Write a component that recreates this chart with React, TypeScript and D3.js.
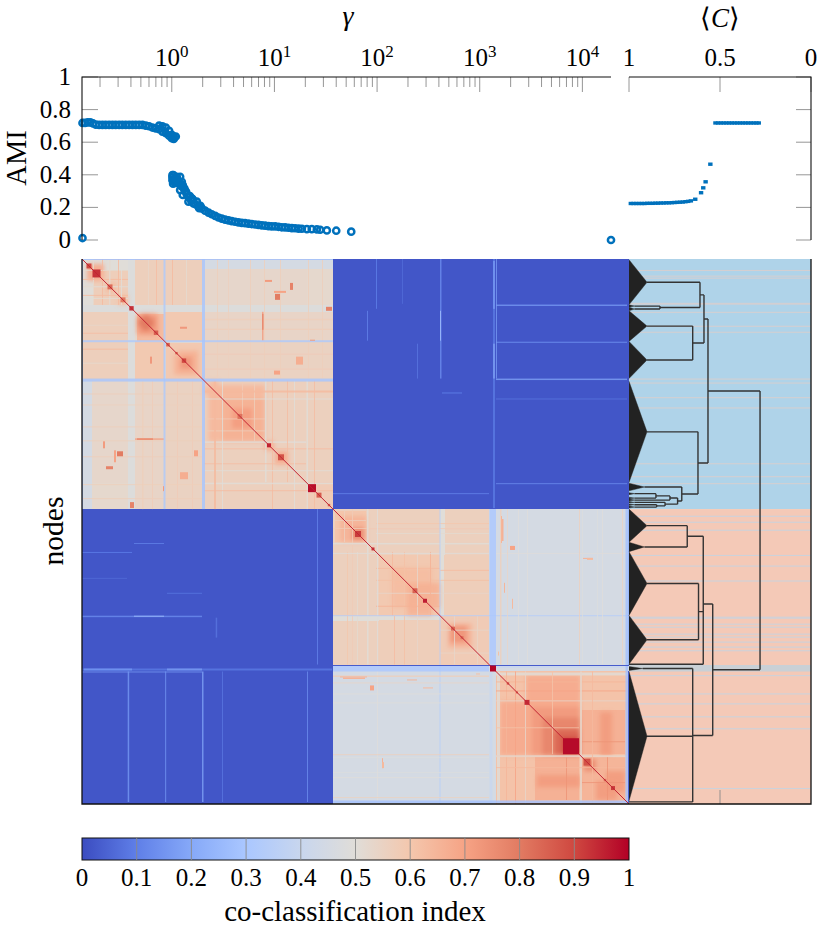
import * as d3 from "d3";

const WIDTH = 832;
const HEIGHT = 927;
const FONT = "'Liberation Serif', serif";
const BLUE = "#0071bc";

// AMI against gamma
const gammaValues = [
  0.135, 0.135, 0.143, 0.152, 0.161, 0.171, 0.182, 0.196, 0.211, 0.227, 0.245, 0.264, 0.284, 0.307, 0.33, 0.356,
  0.384, 0.414, 0.446, 0.481, 0.518, 0.558, 0.601, 0.648, 0.698, 0.753, 0.753, 0.811, 0.811, 0.875, 0.875, 0.942,
  0.942, 1.0, 1.0, 1.045, 1.045, 1.094,
  1.015, 1.015, 1.015, 1.037, 1.078, 1.119, 1.206, 1.078, 1.161, 1.252, 1.28, 1.329, 1.206, 1.28, 1.38, 1.454,
  1.567, 1.454, 1.626, 1.753, 1.82,
  1.96, 2.11, 2.28, 2.45, 2.65, 2.85, 3.07, 3.31, 3.57, 3.84, 4.14, 4.46, 4.81, 5.18, 5.59, 6.02, 6.49, 6.99, 7.54,
  8.12, 8.76, 9.43, 10.17, 10.96, 11.8, 12.7, 13.7, 14.8, 15.9, 17.2, 18.5, 20.7, 23.1, 25.9, 27.9, 32.4, 40, 56, 19000,
  1.03, 1.06, 1.1, 1.15, 1.19, 1.24, 1.3, 1.35, 1.4, 1.5, 1.55, 1.6, 1.7, 1.85, 1.9,
];
const amiValues = [
  0.012, 0.718, 0.718, 0.722, 0.722, 0.715, 0.708, 0.706, 0.706, 0.706, 0.706, 0.706, 0.706, 0.706, 0.706, 0.706,
  0.706, 0.706, 0.706, 0.706, 0.706, 0.702, 0.698, 0.69, 0.685, 0.68, 0.702, 0.665, 0.698, 0.655, 0.69, 0.64,
  0.67, 0.625, 0.645, 0.62, 0.635, 0.635,
  0.398, 0.385, 0.367, 0.398, 0.378, 0.388, 0.388, 0.35, 0.347, 0.357, 0.337, 0.316, 0.306, 0.276, 0.296, 0.265,
  0.255, 0.235, 0.224, 0.235, 0.204,
  0.194, 0.18, 0.168, 0.158, 0.148, 0.138, 0.131, 0.125, 0.12, 0.116, 0.112, 0.108, 0.105, 0.103, 0.1, 0.098, 0.095, 0.093, 0.09,
  0.088, 0.085, 0.084, 0.083, 0.081, 0.078, 0.077, 0.075, 0.073, 0.072, 0.07, 0.069, 0.067, 0.067, 0.065, 0.063, 0.059, 0.057, 0.051, 0,
  0.345, 0.36, 0.37, 0.365, 0.35, 0.33, 0.32, 0.3, 0.28, 0.27, 0.24, 0.25, 0.22, 0.195, 0.21,
];

// AMI against mean consensus, top right panel
const consensusValues = [
  0.99, 0.975, 0.96, 0.945, 0.93, 0.915, 0.9, 0.885, 0.87, 0.855, 0.84, 0.825, 0.81, 0.795, 0.78, 0.765, 0.75, 0.735,
  0.72, 0.705, 0.69, 0.675, 0.66, 0.636, 0.604, 0.592, 0.579, 0.553,
  0.525, 0.51, 0.495, 0.48, 0.465, 0.45, 0.435, 0.42, 0.405, 0.39, 0.375, 0.36, 0.345, 0.33, 0.315, 0.3, 0.287,
];
const consensusAmi = [
  0.224, 0.224, 0.224, 0.224, 0.224, 0.224, 0.225, 0.225, 0.225, 0.226, 0.226, 0.227, 0.227, 0.228, 0.228, 0.229,
  0.23, 0.231, 0.232, 0.233, 0.235, 0.237, 0.24, 0.25, 0.29, 0.32, 0.357, 0.465,
  0.718, 0.718, 0.718, 0.718, 0.718, 0.718, 0.718, 0.718, 0.718, 0.718, 0.718, 0.718, 0.718, 0.718, 0.718, 0.718, 0.718,
];

const amiTicks = [0, 0.2, 0.4, 0.6, 0.8, 1];
const consensusTicks = [1, 0.5, 0];
const gammaDecades = [0, 1, 2, 3, 4];
const colorbarTicks = [0, 0.1, 0.2, 0.3, 0.4, 0.5, 0.6, 0.7, 0.8, 0.9, 1];
const coolwarmStops = [
  "#3b4cc0", "#5f7fe8", "#86a9f8", "#aac7ff", "#c8d6ee", "#e0ddd8",
  "#f4c7ad", "#f6a385", "#e27b62", "#cf4840", "#b20026",
];

// co-classification blocks, in node index: [a0, a1, b0, b1, value], mirrored across the diagonal
const blocks = [
  [0, 251, 0, 251, 0.525], [251, 547, 251, 547, 0.45], [0, 251, 251, 547, 0.02],
  [0, 10, 122, 251, 0.45], [46, 53, 0, 251, 0.485], [0, 46, 0, 46, 0.57], [53, 82, 0, 46, 0.565], [82, 120, 0, 46, 0.565],
  [0, 46, 1, 11, 0.5], [82, 120, 53, 82, 0.59], [53, 82, 123, 251, 0.54], [82, 120, 122, 251, 0.55], [0, 46, 122, 225, 0.53],
  [122, 251, 1, 10, 0.45], [55, 82, 55, 82, 0.63], [84, 120, 84, 120, 0.59],
  [122, 224, 122, 224, 0.56], [224, 251, 224, 251, 0.58], [224, 251, 122, 224, 0.56],
  [251, 407, 251, 407, 0.56], [253, 284, 253, 284, 0.6], [297, 358, 297, 358, 0.59], [358, 363, 251, 407, 0.5],
  [358, 407, 358, 407, 0.58], [297, 358, 362, 407, 0.57], [251, 294, 294, 358, 0.56],
  [251, 407, 414, 547, 0.45], [414, 547, 414, 547, 0.61], [453, 497, 500, 543, 0.66], [500, 543, 500, 543, 0.65],
];

// graded cores inside the communities, drawn soft
const softBlocks = [
  [5, 20, 5, 22, 0.67], [24, 34, 24, 34, 0.63], [36, 46, 36, 46, 0.61], [57, 75, 55, 76, 0.72], [60, 68, 56, 72, 0.8],
  [96, 116, 92, 116, 0.66], [100, 110, 98, 110, 0.73], [126, 183, 128, 183, 0.63], [140, 183, 140, 180, 0.66], [150, 170, 150, 170, 0.71],
  [122, 183, 128, 136, 0.64], [193, 206, 193, 206, 0.67], [183, 192, 183, 192, 0.67],
  [258, 284, 258, 284, 0.65], [270, 282, 270, 282, 0.76], [325, 358, 325, 350, 0.66], [310, 325, 310, 350, 0.63],
  [366, 390, 366, 390, 0.65], [370, 385, 368, 385, 0.73],
  [418, 498, 444, 498, 0.68], [450, 498, 450, 498, 0.72], [462, 498, 460, 498, 0.77], [475, 498, 472, 498, 0.84], [480, 497, 480, 497, 0.9],
  [455, 498, 518, 530, 0.72], [502, 514, 502, 514, 0.75], [524, 543, 514, 535, 0.72],
];

// thin lighter and darker lines inside the blocks: [pos, width, b0, b1, value], mirrored too
const stripes = [
  [11, 1, 0, 46, 0.52], [20, 1, 0, 46, 0.64], [27, 1.5, 0, 46, 0.52], [36, 1, 0, 46, 0.64], [39, 1, 0, 46, 0.5],
  [66, 1, 0, 46, 0.53], [74, 1, 0, 46, 0.63], [90, 1, 0, 46, 0.64], [104, 1, 0, 46, 0.52],
  [70, 1, 122, 251, 0.58], [60, 1.5, 122, 251, 0.57], [95, 1, 122, 251, 0.58], [110, 1, 122, 251, 0.58],
  [135, 1, 0, 120, 0.57], [146, 1, 0, 120, 0.56], [168, 1, 0, 120, 0.57], [182, 1, 0, 120, 0.57], [180, 1.5, 53, 82, 0.72],
  [198, 1, 0, 120, 0.57], [226, 1, 0, 120, 0.57], [240, 1, 0, 120, 0.57], [183, 1.5, 122, 224, 0.5], [190, 1, 122, 251, 0.63],
  [205, 1, 122, 224, 0.63], [212, 1, 122, 251, 0.5], [224.5, 1.5, 122, 251, 0.5], [160, 1, 122, 183, 0.58], [172, 1, 122, 183, 0.57],
  [132, 2, 122, 251, 0.64], [140, 1, 122, 251, 0.5], [232, 1, 122, 251, 0.63],
  [262, 1, 251, 284, 0.56], [270, 1, 251, 407, 0.58], [285, 1.5, 251, 407, 0.5], [310, 1, 294, 358, 0.64], [322, 1, 294, 407, 0.62],
  [335, 1, 294, 407, 0.53], [348, 1, 294, 358, 0.66], [372, 1, 358, 407, 0.53], [395, 1, 358, 407, 0.54], [312, 1, 358, 407, 0.63],
  [265, 1, 294, 407, 0.6], [275, 1, 294, 407, 0.52], [295, 1, 251, 407, 0.49],
  [415, 3, 414, 547, 0.5], [424, 1, 414, 547, 0.65], [433, 1, 414, 547, 0.7], [443, 1, 414, 547, 0.53], [470, 1, 414, 497, 0.61],
  [484, 1, 500, 543, 0.74], [498, 2, 414, 547, 0.53], [510, 1, 414, 547, 0.64], [525, 1, 500, 543, 0.74],
  [295, 1, 414, 547, 0.49], [357.5, 1, 251, 547, 0.33], [436, 1, 251, 407, 0.49], [500, 1, 251, 407, 0.48], [515, 1, 251, 407, 0.48],
  [445, 1, 251, 407, 0.49], [418, 1.5, 251, 407, 0.57], [425, 1, 251, 407, 0.54], [497, 1, 251, 407, 0.56], [520, 1, 251, 407, 0.49], [540, 1, 251, 407, 0.55],
  // faint lines through the blue blocks
  [358, 1.5, 0, 120, 0.13], [45.7, 1.5, 414, 545, 0.16], [83, 1.2, 414, 545, 0.13], [120, 1.5, 414, 545, 0.18], [140, 1, 414, 545, 0.08],
  [225, 1, 414, 545, 0.13], [235, 1, 251, 407, 0.11], [294, 1, 0, 50, 0.1], [285, 1, 52, 82, 0.11], [411, 2, 0, 250, 0.09], [411, 2, 2, 50, 0.16],
  [411, 2, 85, 120, 0.17], [414, 1, 0, 120, 0.16], [358, 1, 52, 82, 0.28], [133.7, 1.5, 360, 380, 0.08], [320, 1, 0, 45, 0.06], [335, 1, 85, 120, 0.08],
  // cross stripes
  [81.5, 2, 0, 251, 0.31], [120, 3, 0, 251, 0.29], [0, 1, 0, 251, 0.27], [407.5, 6.5, 251, 407, 0.3], [407.5, 3, 414, 547, 0.4],
  [543.5, 2.5, 251, 547, 0.28],
];

// small warm spots away from the diagonal: [a0, a1, b0, b1, value]
const hotSpots = [
  [208, 211, 24, 31, 0.78], [193, 198, 35, 41, 0.8], [183, 190, 21, 23, 0.72], [192, 204, 32, 34, 0.7], [244, 250, 48, 52, 0.78],
  [180, 181.5, 55, 71, 0.76], [98, 105, 68, 70, 0.73], [214, 221, 98, 106, 0.67], [228, 233, 81, 82, 0.72], [192, 198, 112, 116, 0.7],
  [420, 421.5, 261, 283, 0.66], [428, 432, 288, 292, 0.7], [501, 511, 300, 301, 0.66], [430, 431, 341, 351, 0.64], [416, 417, 394, 398, 0.62],
  [300, 302, 505, 511, 0.64], [258, 285, 419, 420, 0.65], [325, 335, 422, 423, 0.65], [288, 292, 429, 433, 0.7],
];

// dark squares on the diagonal: [centre, half size, value]
const diagonalBlobs = [
  [7, 2.5, 0.9], [14.5, 4, 0.93], [28, 2.5, 0.83], [41, 2.5, 0.8], [49.5, 2.2, 0.93], [74, 2.2, 0.86], [86, 1.8, 0.85], [94.5, 1.2, 0.85], [102, 2.2, 0.9],
  [158, 2.5, 0.82], [187, 2, 0.95], [199, 3, 0.88], [230, 4, 0.98], [237, 2.5, 0.86], [247, 1.2, 0.85],
  [276, 3, 0.92], [291, 1.5, 0.93], [333, 2.5, 0.85], [343, 2, 0.96], [371, 2, 0.84], [380, 1.5, 0.82],
  [426, 1.2, 0.86], [435, 1, 0.86], [445, 2.5, 0.94], [505, 3.5, 0.88], [523, 1.2, 0.84], [531, 2, 0.92],
];
const sharpBlobs = [[411, 3, 0.995], [489, 8, 0.985]];

// not symmetric: the dark row under the second module and the right edge
const edgeCells = [
  [251, 547, 407, 408, 0.03], [545.7, 547, 251, 407, 0.25], [545.7, 547, 414, 547, 0.05],
];

// consensus dendrogram; leaves span node ranges, inner nodes sit at a consensus level
const dendroNodes = [
  { id: "root", parent: null, c: 0.28 },
  { id: "g1", parent: "root", c: 0.566 }, { id: "g2", parent: "root", c: 0.54 },
  { id: "g1a", parent: "g1", c: 0.588 }, { id: "g1b", parent: "g1", c: 0.621 },
  { id: "m1", parent: "g1a", c: 0.61 }, { id: "m2", parent: "g1a", c: 0.65 },
  { id: "t1", parent: "m1", c: 0.901, start: 0.7, end: 46 },
  { id: "mt", parent: "m1", c: 0.83 },
  { id: "tb1", parent: "mt", c: 0.97, start: 46, end: 48.5 }, { id: "tb2", parent: "mt", c: 0.97, start: 48.5, end: 52 },
  { id: "t2", parent: "m2", c: 0.901, start: 52, end: 82.7 }, { id: "t3", parent: "m2", c: 0.901, start: 82.7, end: 120 },
  { id: "t4", parent: "g1b", c: 0.901, start: 122.7, end: 224.3 },
  { id: "s", parent: "g1b", c: 0.71 },
  { id: "t5", parent: "s", c: 0.915, start: 225, end: 232.7 },
  { id: "s1", parent: "s", c: 0.733 }, { id: "s2", parent: "s1", c: 0.775 }, { id: "s3", parent: "s2", c: 0.852 },
  { id: "a", parent: "s3", c: 0.97, start: 234.5, end: 236.5 }, { id: "b", parent: "s3", c: 0.97, start: 239, end: 241 },
  { id: "cc", parent: "s2", c: 0.97, start: 241, end: 243 },
  { id: "s4", parent: "s1", c: 0.802 },
  { id: "d", parent: "s4", c: 0.97, start: 243.5, end: 245 },
  { id: "s5", parent: "s4", c: 0.848 },
  { id: "f", parent: "s5", c: 0.97, start: 246, end: 247.3 }, { id: "h", parent: "s5", c: 0.97, start: 248, end: 250 },
  { id: "g2a", parent: "g2", c: 0.592 }, { id: "g2b", parent: "g2", c: 0.65 },
  { id: "g2a1", parent: "g2a", c: 0.68 }, { id: "g2a2", parent: "g2a", c: 0.618 },
  { id: "single1", parent: "g2a", c: 1, start: 406.6, end: 406.8 },
  { id: "t6", parent: "g2a1", c: 0.901, start: 251, end: 284.3 }, { id: "t7", parent: "g2a1", c: 0.915, start: 284.3, end: 293.7 },
  { id: "t8", parent: "g2a2", c: 0.901, start: 293.7, end: 357.7 }, { id: "t9", parent: "g2a2", c: 0.901, start: 357.7, end: 406.7 },
  { id: "t10", parent: "g2b", c: 0.925, start: 409, end: 413 }, { id: "t11", parent: "g2b", c: 0.901, start: 414, end: 544 },
  { id: "single2", parent: "g2b", c: 1, start: 544.8, end: 545 },
];

// rows that stand out in the side panel
const sideRows1 = [11, 16.7, 18.7, 44, 44.8, 53, 67, 73, 120, 124, 138.7, 149, 205, 218, 225];
const sideRows2 = [257.7, 263.7, 271.7, 297, 307.7, 322.7, 359, 360, 366, 369, 376, 379, 384, 389, 392.7, 417.7, 436, 446, 459, 471, 531];

const NODE_COUNT = 547;

export default function App() {
  const gammaX = d3.scaleLog().domain([0.1335, 19000]).range([82, 611]);
  const consensusX = d3.scaleLinear().domain([1, 0]).range([629, 811]);
  const amiY = d3.scaleLinear().domain([0, 1]).range([240, 77]);
  const nodeX = d3.scaleLinear().domain([0, NODE_COUNT]).range([82, 629]);
  const nodeY = d3.scaleLinear().domain([0, NODE_COUNT]).range([259, 804]);
  const barX = d3.scaleLinear().domain([0, 1]).range([82, 629]);
  const color = d3.scaleLinear<string>().domain(colorbarTicks).range(coolwarmStops).interpolate(d3.interpolateRgb);

  const cell = (a0: number, a1: number, b0: number, b1: number, v: number, key: string, opacity = 1) => (
    <rect key={key} x={nodeX(a0)} y={nodeY(b0)} width={nodeX(a1) - nodeX(a0)} height={nodeY(b1) - nodeY(b0)} fill={color(v)} opacity={opacity} />
  );
  const mirrored = (a0: number, a1: number, b0: number, b1: number, v: number, key: string, opacity = 1) => [
    cell(a0, a1, b0, b1, v, key + "a", opacity),
    cell(b0, b1, a0, a1, v, key + "b", opacity),
  ];

  // dendrogram layout: leaf y is the middle of its range, inner y the mean of the children
  const root = d3.stratify<any>().id((d) => d.id).parentId((d) => d.parent)(dendroNodes);
  root.eachAfter((n: any) => {
    n.py = n.children ? d3.mean(n.children, (k: any) => k.py) : (n.data.start + n.data.end) / 2;
  });
  const elbows = d3.path();
  const triangles: string[] = [];
  const triangleLine = d3.line();
  root.each((n: any) => {
    if (n.children) {
      const ys = n.children.map((k: any) => k.py);
      elbows.moveTo(consensusX(n.data.c), nodeY(d3.min(ys) as number));
      elbows.lineTo(consensusX(n.data.c), nodeY(d3.max(ys) as number));
      n.children.forEach((k: any) => {
        elbows.moveTo(consensusX(k.data.c), nodeY(k.py));
        elbows.lineTo(consensusX(n.data.c), nodeY(k.py));
      });
    } else {
      triangles.push(triangleLine([
        [consensusX(1), nodeY(n.data.start)],
        [consensusX(n.data.c), nodeY(n.py)],
        [consensusX(1), nodeY(n.data.end)],
      ]) as string);
    }
  });

  const minorGamma = gammaX.ticks().filter((t) => t >= gammaX.domain()[0] && t <= gammaX.domain()[1]);
  const diagonal = d3.line()([[nodeX(0), nodeY(0)], [nodeX(NODE_COUNT), nodeY(NODE_COUNT)]]) as string;

  return (
    <svg width={WIDTH} height={HEIGHT} style={{ position: "absolute", left: 0, top: 0 }} fontFamily={FONT} fill="#000">
      <defs>
        <linearGradient id="coolwarm" x1="0" x2="1" y1="0" y2="0">
          {colorbarTicks.map((t) => <stop key={t} offset={t} stopColor={color(t)} />)}
        </linearGradient>
        <filter id="soft" x="-30%" y="-30%" width="160%" height="160%"><feGaussianBlur stdDeviation={2.2} /></filter>
        <filter id="slight" x="-5%" y="-5%" width="110%" height="110%"><feGaussianBlur stdDeviation={0.55} /></filter>
        <clipPath id="matrixClip"><rect x={82} y={259} width={547} height={545} /></clipPath>
      </defs>

      {/* titles */}
      <text x={348} y={25} fontSize={28} fontStyle="italic" textAnchor="middle">γ</text>
      <text x={720} y={27} fontSize={27} textAnchor="middle">⟨<tspan fontStyle="italic">C</tspan>⟩</text>

      {/* top panel ticks */}
      {minorGamma.map((t) => {
        const major = gammaDecades.some((d) => Math.abs(Math.log10(t) - d) < 1e-6);
        return <line key={t} x1={gammaX(t)} x2={gammaX(t)} y1={77} y2={major ? 92 : 87} stroke="#8a8a8a" strokeWidth={0.9} />;
      })}
      {gammaDecades.map((d) => (
        <text key={d} x={gammaX(Math.pow(10, d))} y={66} fontSize={25} textAnchor="middle">
          10<tspan fontSize={17} dy={-9}>{d}</tspan>
        </text>
      ))}
      {amiTicks.map((t) => (
        <g key={t}>
          <line x1={82} x2={98} y1={amiY(t)} y2={amiY(t)} stroke="#8a8a8a" strokeWidth={0.9} />
          <line x1={796} x2={811} y1={amiY(t)} y2={amiY(t)} stroke="#8a8a8a" strokeWidth={0.9} />
          <text x={71} y={amiY(t) + 8} fontSize={25} textAnchor="end">{t}</text>
        </g>
      ))}
      {consensusTicks.map((t) => (
        <g key={t}>
          <line x1={consensusX(t)} x2={consensusX(t)} y1={77} y2={92} stroke="#8a8a8a" strokeWidth={0.9} />
          <text x={consensusX(t)} y={66} fontSize={25} textAnchor="middle">{t}</text>
        </g>
      ))}
      <text transform="translate(26,158) rotate(-90)" fontSize={28.5} textAnchor="middle">AMI</text>

      {/* scatter */}
      {gammaValues.map((g, i) => (
        <circle key={i} cx={gammaX(g)} cy={amiY(amiValues[i])} r={3.1} fill="none" stroke={BLUE} strokeWidth={2.5} />
      ))}
      {consensusValues.map((c, i) => (
        <rect key={i} x={consensusX(c) - 2.2} y={amiY(consensusAmi[i]) - 1.7} width={4.4} height={3.4} fill={BLUE} />
      ))}

      <path d="M82,240V77H611" fill="none" stroke="#111" strokeWidth={1.1} />
      <path d="M629,77H811V240" fill="none" stroke="#111" strokeWidth={1.1} />

      {/* co-classification matrix */}
      <g clipPath="url(#matrixClip)">
        <g shapeRendering="crispEdges">{blocks.map((b, i) => mirrored(b[0], b[1], b[2], b[3], b[4], "b" + i))}</g>
        <g filter="url(#soft)">{softBlocks.map((b, i) => mirrored(b[0], b[1], b[2], b[3], b[4], "k" + i, 0.9))}</g>
        <g filter="url(#slight)">
          {stripes.map((s, i) => mirrored(s[0], s[0] + s[1], s[2], s[3], s[4], "s" + i, 0.8))}
          {hotSpots.map((h, i) => mirrored(h[0], h[1], h[2], h[3], h[4], "h" + i))}
          {diagonalBlobs.map((b, i) => cell(b[0] - b[1], b[0] + b[1], b[0] - b[1], b[0] + b[1], b[2], "d" + i))}
        </g>
        <g shapeRendering="crispEdges">{edgeCells.map((e, i) => cell(e[0], e[1], e[2], e[3], e[4], "e" + i))}</g>
        <path d={diagonal} stroke={color(0.95)} strokeWidth={1} fill="none" />
        {sharpBlobs.map((b, i) => cell(b[0] - b[1], b[0] + b[1], b[0] - b[1], b[0] + b[1], b[2], "x" + i))}
      </g>

      {/* side panel: background by module, then the dendrogram */}
      <rect x={consensusX(1)} y={nodeY(0)} width={consensusX(0) - consensusX(1)} height={nodeY(251) - nodeY(0)} fill="#afd3e9" />
      <rect x={consensusX(1)} y={nodeY(251)} width={consensusX(0) - consensusX(1)} height={nodeY(NODE_COUNT) - nodeY(251)} fill="#f4c9b7" />
      <rect x={consensusX(1)} y={nodeY(407.5)} width={consensusX(0) - consensusX(1)} height={nodeY(414) - nodeY(407.5)} fill="#c9d0d6" />
      {sideRows1.map((r) => <rect key={r} x={consensusX(1)} y={nodeY(r)} width={consensusX(0) - consensusX(1)} height={1} fill="#d6cfd0" />)}
      {sideRows2.map((r) => <rect key={r} x={consensusX(1)} y={nodeY(r)} width={consensusX(0) - consensusX(1)} height={1} fill="#c9d3de" />)}
      {triangles.map((d, i) => <path key={i} d={d} fill="#222" stroke="#222" strokeWidth={0.4} />)}
      <path d={elbows.toString()} fill="none" stroke="#333" strokeWidth={1.4} />
      <line x1={consensusX(0.5)} x2={consensusX(0.5)} y1={790} y2={804} stroke="#8a8a8a" strokeWidth={0.9} />

      <path d="M82,259V804H811V259" fill="none" stroke="#111" strokeWidth={1.3} />
      <text transform="translate(63,531) rotate(-90)" fontSize={29.5} textAnchor="middle">nodes</text>

      {/* colorbar */}
      <rect x={82} y={838} width={547} height={22} fill="url(#coolwarm)" stroke="#111" strokeWidth={1} />
      {colorbarTicks.map((t) => (
        <g key={t}>
          {t > 0 && t < 1 && <line x1={barX(t)} x2={barX(t)} y1={838} y2={860} stroke="#8a8a8a" strokeWidth={0.9} />}
          <text x={barX(t)} y={886} fontSize={25} textAnchor="middle">{t}</text>
        </g>
      ))}
      <text x={355} y={920.5} fontSize={29} textAnchor="middle">co-classification index</text>
    </svg>
  );
}
